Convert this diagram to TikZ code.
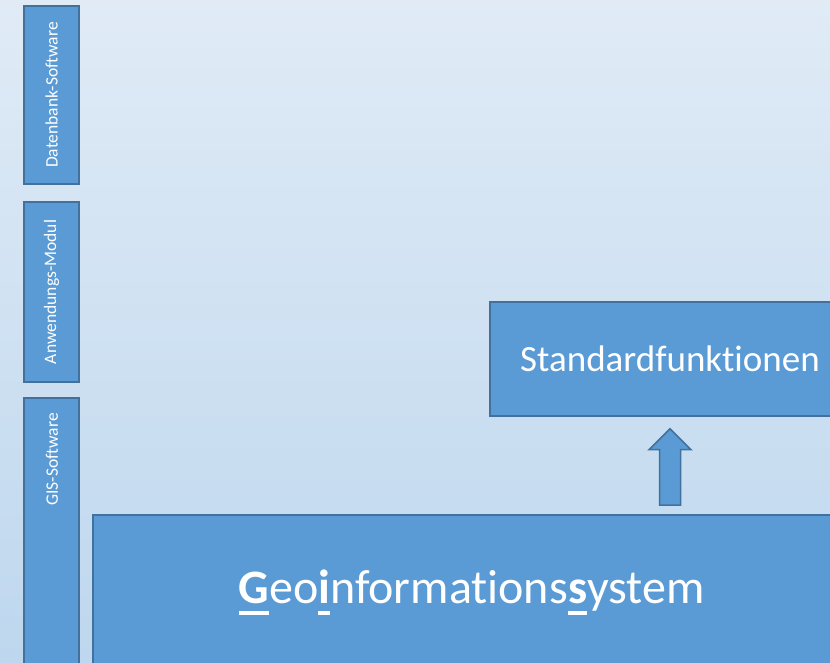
\documentclass[tikz,border=0pt]{standalone}
\usepackage{fontspec}
\setmainfont{Carlito}[RawFeature={-liga;-clig}]
\usetikzlibrary{calc}

\definecolor{boxfill}{HTML}{5B9BD5}
\definecolor{boxline}{HTML}{41719C}
\definecolor{bgtop}{RGB}{224,235,246}
\definecolor{bgbottom}{RGB}{190,215,238}

\newcommand{\geoul}[1]{\setbox0\hbox{\textbf{#1}}\rlap{\rule[-12pt]{\wd0}{4pt}}\box0}

\tikzset{
  layerbox/.style={draw=boxline, line width=1.5pt, fill=boxfill, text=white, inner sep=0pt},
  sidebox/.style={layerbox, rotate=90, minimum height=55pt, font=\fontsize{17.5}{20}\selectfont},
  blockarrow/.style={draw=boxline, line width=1.5pt, fill=boxfill, line join=miter}
}

\begin{document}
\begin{tikzpicture}[x=1pt,y=1pt]
            % Define the background
            \useasboundingbox (0,0) rectangle (830,663);
            \clip (0,0) rectangle (830,663);
            \shade[top color=bgtop, bottom color=bgbottom] (0,0) rectangle (830,663);

            % Side labels
            \node[sidebox, minimum width=178pt] (datenbank) at (51.5,568) {Datenbank-Software};
            \node[sidebox, minimum width=180pt] (anwendung) at (51.5,371) {Anwendungs-Modul};
            \node[sidebox, minimum width=285pt] (gis) at (51.5,122.5) {};
            \node[rotate=90, text=white, font=\fontsize{17.5}{20}\selectfont] (gislabel) at (52,203.5) {GIS-Software};

            % Main boxes
            \node[layerbox, minimum width=757pt, minimum height=155pt, font=\fontsize{48}{56}\selectfont] (geo) at (471.5,70.5)
              {\geoul{G}eo\geoul{i}nformations\geoul{s}ystem};
            \node[layerbox, minimum width=360pt, minimum height=114pt, font=\fontsize{37}{44}\selectfont] (std) at (670,304) {Standardfunktionen};

            % Block arrow from geo to std
            \draw[blockarrow] let \p1=(std.south), \p2=(geo.north) in
              (\x1-10.5,\y2+9) -- (\x1-10.5,\y1-33) -- (\x1-21,\y1-33) -- (\x1,\y1-12)
              -- (\x1+21,\y1-33) -- (\x1+10.5,\y1-33) -- (\x1+10.5,\y2+9) -- cycle;

        \end{tikzpicture}
\end{document}
